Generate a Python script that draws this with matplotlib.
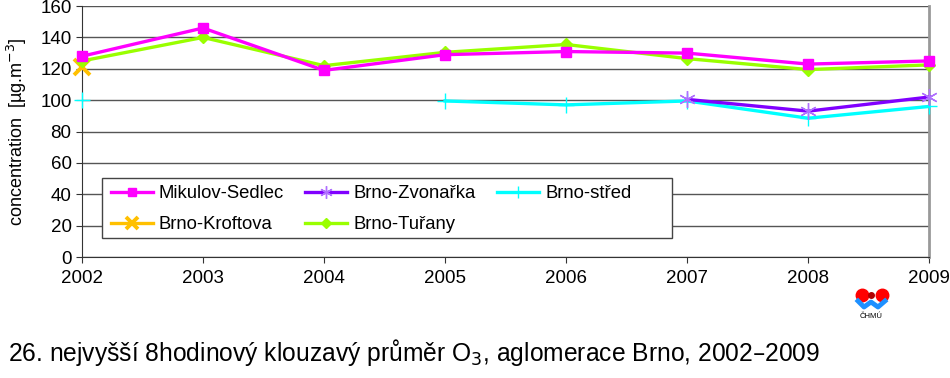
import numpy as np
import matplotlib.pyplot as plt
from matplotlib.lines import Line2D
from matplotlib.patches import Rectangle

plt.rcParams['font.family'] = ['Liberation Sans', 'DejaVu Sans']

years = [2002, 2003, 2004, 2005, 2006, 2007, 2008, 2009]
nan = np.nan
mikulov = [128, 146, 119, 129, 131, 130, 123, 125]
kroftova = [121, nan, nan, nan, nan, nan, nan, nan]
zvonarka = [nan, nan, nan, nan, nan, 100.5, 93, 102]
turany = [125, 140, 122, 130.5, 135.5, 126.5, 119.5, 122.5]
stred = [100, nan, nan, 99.5, 97, 99.5, 88.5, 96]

fig = plt.figure(figsize=(9.5, 3.78), dpi=100)
ax = fig.add_axes([0.0863, 0.320, 0.8917, 0.664])

x = np.arange(len(years))
ax.plot(x, mikulov, color='#ff00ff', lw=2.4, marker='s', ms=7.5, label='Mikulov-Sedlec', zorder=5, clip_on=False)
ax.plot(x, kroftova, color='#ffc000', lw=2.4, marker='x', ms=11, mew=2.8, label='Brno-Kroftova', zorder=4, clip_on=False)
ax.plot(x, zvonarka, color='#8000ff', lw=2.4, marker=(6, 2, 0), ms=12, mew=1, mec='#b070ff', label='Brno-Zvonařka', zorder=4, clip_on=False)
ax.plot(x, turany, color='#99ff00', lw=2.4, marker='D', ms=6.5, label='Brno-Tuřany', zorder=4, clip_on=False)
ax.plot(x, stred, color='#00ffff', lw=2.4, marker='+', ms=12, mew=1, label='Brno-střed', zorder=3, clip_on=False)

handles, labels = ax.get_legend_handles_labels()
order = ['Mikulov-Sedlec', 'Brno-Kroftova', 'Brno-Zvonařka', 'Brno-Tuřany', 'Brno-střed']
hmap = dict(zip(labels, handles))
leg = ax.legend([hmap[k] for k in order], order, ncol=3, loc='upper left',
                bbox_to_anchor=(0.0342, 0.287), fontsize=13.3, frameon=False,
                handlelength=2.25, columnspacing=1.15, markerscale=0.75,
                borderpad=0, labelspacing=0.78, handletextpad=0.35, borderaxespad=0)
leg.set_zorder(6)
# legend box is wider than its entries in the reference
ax.add_patch(Rectangle((0.0236, 0.0757), 0.673, 0.239, transform=ax.transAxes,
                       facecolor='white', edgecolor='#444444', lw=1.0, zorder=5.5))

ax.set_xlim(0, len(years) - 1)
ax.set_ylim(0, 160)
ax.set_yticks(range(0, 161, 20))
ax.set_xticks(x)
ax.set_xticklabels([str(y) for y in years])
ax.tick_params(labelsize=13.5, length=4, color='#333333')
ax.tick_params(axis='x', pad=5)
ax.grid(axis='y', color='#555555', lw=1)
ax.set_axisbelow(True)
ax.spines['top'].set_visible(False)
ax.spines['right'].set_color('#999999')
ax.spines['right'].set_linewidth(2)
ax.spines['left'].set_color('#333333')
ax.spines['bottom'].set_color('#333333')
ax.set_ylabel('concentration  [µg.m$^{-3}$]', fontsize=13, labelpad=8)

# logo
for lx, lsz in [(0.9074, 9), (0.917, 4), (0.9284, 9)]:
    fig.lines.append(Line2D([lx], [0.2196], transform=fig.transFigure, marker='o', ms=lsz,
                            color='#ff0000' if lsz > 5 else '#b00000', lw=0))
wx = np.array([858, 864, 871, 878, 885]) / 950
wy = 1 - np.array([301, 307, 302, 307, 301]) / 378
fig.lines.append(Line2D(wx, wy, transform=fig.transFigure, color='#1e90ff', lw=3.5))
fig.text(0.917, 0.162, 'ČHMÚ', fontsize=5.5, ha='center', va='center')

fig.text(0.008, 0.068, '26. nejvyšší 8hodinový klouzavý průměr O$_3$, aglomerace Brno, 2002–2009',
         fontsize=17.7, ha='left', va='center')

fig.savefig('out.png', dpi=100)
